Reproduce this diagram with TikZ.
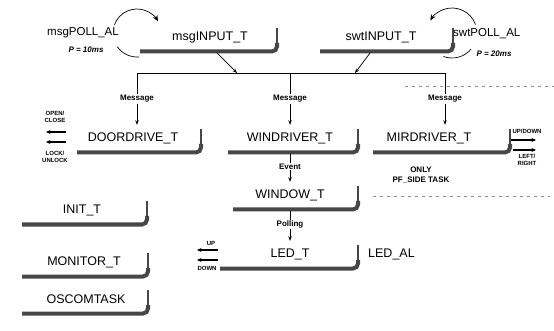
\documentclass[tikz,border=0pt]{standalone}
\usepackage{fontspec}
\setmainfont{Liberation Sans}
\usetikzlibrary{arrows.meta}
\tikzset{
  lbl/.style={font=\fontsize{12.5}{14}\selectfont, inner sep=0pt},
  tbox/.style={lbl, minimum height=26pt},
  msglbl/.style={font=\bfseries\fontsize{8}{9}\selectfont, fill=white, inner sep=1.2pt},
  tinylbl/.style={font=\bfseries\fontsize{6}{7}\selectfont, inner sep=0pt, align=center},
  notelbl/.style={font=\bfseries\fontsize{8}{10}\selectfont, inner sep=0pt, align=center},
  plbl/.style={font=\bfseries\itshape\fontsize{8}{9}\selectfont, inner sep=0pt},
  conn/.style={line width=0.7pt, -{Stealth[length=4.5pt,width=3.5pt]}},
  bbar/.style={draw=black!72, line width=4pt, rounded corners=5pt},
  redge/.style={draw=black!72, line width=1.8pt},
  loopline/.style={line width=0.7pt},
  outarrow/.style={line width=1.3pt, -{Stealth[length=4.5pt,width=4pt]}},
  scanline/.style={draw=black!45, line width=0.6pt, dash pattern=on 3pt off 4pt},
}
\newcommand\tbox[6]{%
  \node[tbox] (#1) at (#2,#3) {#6};
  \draw[redge] (#5,#3-9) -- (#5,#3+8);
  \draw[bbar] (#5,#3+6) -- (#5,#3+14.5) -- (#4,#3+14.5);
}
\begin{document}
\begin{tikzpicture}[x=1pt,y=-1pt]
\useasboundingbox (0,0) rectangle (554,331);

% boxes
\tbox{msgin}{210}{37}{140}{277}{msgINPUT\_T}
\tbox{swtin}{381}{37}{320}{453}{swtINPUT\_T}
\tbox{door}{133}{138}{77}{201}{DOORDRIVE\_T}
\tbox{win}{290}{138}{228}{358}{WINDRIVER\_T}
\tbox{mir}{429}{138}{373}{510}{MIRDRIVER\_T}
\tbox{window}{290}{195}{233}{358}{WINDOW\_T}
\tbox{led}{290}{254}{220}{358}{LED\_T}
\tbox{init}{82}{210}{22}{147}{INIT\_T}
\tbox{monitor}{84}{262}{22}{148}{MONITOR\_T}
\tbox{oscom}{86}{299}{22}{148}{OSCOMTASK}

% polling loops
\coordinate (mloop) at (137,33);
\coordinate (sloop) at (452,33);
\draw[loopline, -{Stealth[length=6pt,width=5pt]}] ([shift={(-160:24)}]mloop) arc[start angle=-160, end angle=-29, radius=24];
\draw[loopline] ([shift={(85:24)}]mloop) arc[start angle=85, end angle=145, radius=24];
\draw[loopline, -{Stealth[length=6pt,width=5pt]}] ([shift={(-20:25)}]sloop) arc[start angle=-20, end angle=-150, radius=25];
\draw[loopline] ([shift={(110:25)}]sloop) arc[start angle=110, end angle=40, radius=25];

\node[lbl, font=\fontsize{11.5}{13}\selectfont, anchor=east] (mpoll) at (119,33) {msgPOLL\_AL};
\node[plbl] (mper) at (86,50) {P = 10ms};
\node[lbl, font=\fontsize{11.5}{13}\selectfont, anchor=west] (spoll) at (453,34) {swtPOLL\_AL};
\node[plbl] (sper) at (494,54) {P = 20ms};
\node[lbl, anchor=west] (ledal) at (368,254) {LED\_AL};

% message bus
\coordinate (busL) at (137,73);
\coordinate (busC) at (290,73);
\coordinate (busR) at (445,73);
\coordinate (busA) at (237,73);
\coordinate (busB) at (355,73);
\coordinate (msgout) at (217,53);
\coordinate (swtout) at (370,53);
\draw[line width=0.7pt] (busL) -- (busR);
\draw[conn] (msgout) -- (busA);
\draw[conn] (swtout) -- (busB);
\draw[conn] (busL) -- node[msglbl] {Message} (busL |- door.north);
\draw[conn] (busC) -- node[msglbl] {Message} (win.north);
\draw[conn] (busR) -- node[msglbl] {Message} (busR |- mir.north);

\draw[conn, shorten <=3pt] (win.south) -- node[msglbl] {Event} (window.north);
\draw[conn, shorten <=3pt] (window.south) -- node[msglbl] {Polling} (led.north);

% door side arrows
\node[tinylbl] (openl) at (55,117) {OPEN/\\CLOSE};
\node[tinylbl] (lockl) at (55,157) {LOCK/\\UNLOCK};
\coordinate (d1s) at (66,132); \coordinate (d1e) at (46,132);
\coordinate (d2s) at (66,142); \coordinate (d2e) at (46,142);
\draw[outarrow] (d1s) -- (d1e);
\draw[outarrow] (d2s) -- (d2e);

% mirror side arrows
\node[tinylbl] (updl) at (527,131) {UP/DOWN};
\node[tinylbl] (lrl) at (527,160) {LEFT/\\RIGHT};
\coordinate (m1s) at (511,140); \coordinate (m1e) at (536,140);
\coordinate (m2s) at (513,150); \coordinate (m2e) at (536,150);
\draw[outarrow] (m1s) -- (m1e);
\draw[outarrow] (m2s) -- (m2e);
\node[notelbl] (only) at (421,175) {ONLY\\PF\_SIDE TASK};

% led side arrows
\node[tinylbl] (upl) at (211,243) {UP};
\node[tinylbl] (downl) at (207,268) {DOWN};
\coordinate (l1s) at (218,250); \coordinate (l1e) at (197,250);
\coordinate (l2s) at (218,260); \coordinate (l2e) at (197,260);
\draw[outarrow] (l1s) -- (l1e);
\draw[outarrow] (l2s) -- (l2e);

% faint scan lines
\coordinate (sc1a) at (405,86); \coordinate (sc1b) at (554,86);
\coordinate (sc2a) at (373,196); \coordinate (sc2b) at (550,196);
\draw[scanline] (sc1a) -- (sc1b);
\draw[scanline] (sc2a) -- (sc2b);
\end{tikzpicture}
\end{document}
